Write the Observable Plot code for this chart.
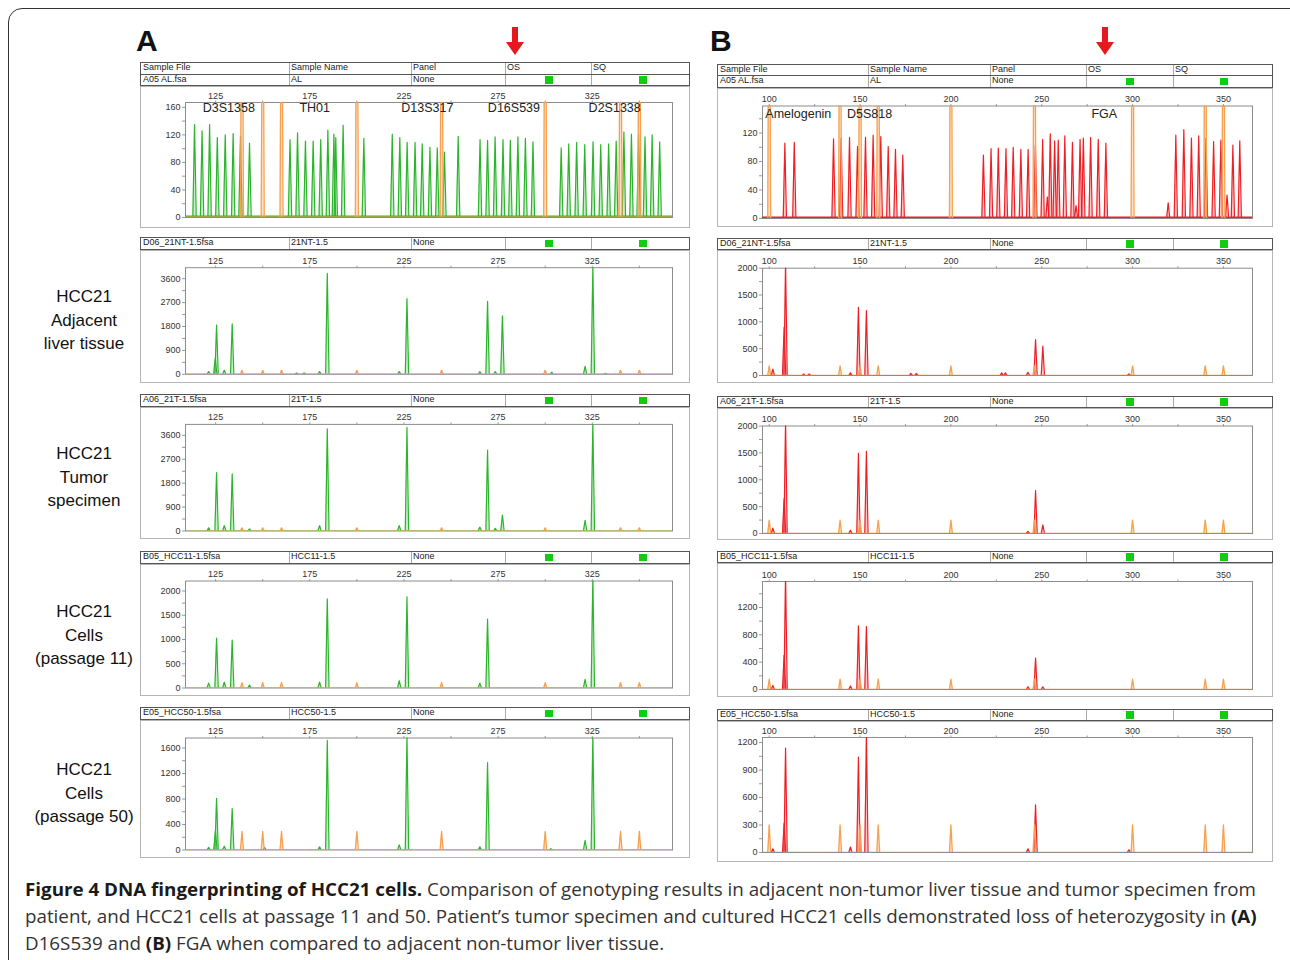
<!DOCTYPE html>
<html><head><meta charset="utf-8">
<script src="https://cdn.jsdelivr.net/npm/d3@7"></script>
<script src="https://cdn.jsdelivr.net/npm/@observablehq/plot@0.6"></script>
<style>
body{margin:0;background:#fff;font-family:"Liberation Sans",Arial,sans-serif;}
#page{position:relative;width:1290px;height:960px;overflow:hidden;background:#fff;}
.hrow{position:absolute;border:1.3px solid #555;box-sizing:border-box;background:#fff;font-size:9px;color:#222;}
.cell{position:absolute;top:0;line-height:9.5px;white-space:nowrap;}
.sep{position:absolute;top:0;bottom:0;width:0;border-left:1px solid #aaa;}
.gsq{position:absolute;top:1.5px;width:8px;height:7.5px;background:#11cc11;}
.box{position:absolute;border:1px solid #b5b5b5;box-sizing:border-box;}
.rowlab{position:absolute;width:160px;text-align:center;font-size:17px;color:#111;line-height:23.5px;}
.plot{position:absolute;display:block;}
</style></head><body><div id="page"></div>
<script>
// ---------- DATA ----------
const xTicksA = [125, 175, 225, 275, 325];
const xMinorA = [150, 200, 250, 300, 350];
const xTicksB = [100, 150, 200, 250, 300, 350];
const xMinorB = [125, 175, 225, 275, 325];

const ladderA = [139, 150, 160, 200, 245, 300, 340, 350];
const ladderB = [100, 139, 150, 160, 200, 246, 300, 340, 350];
const ladderHeightsA = [500, 150, 120, 110, 290];
const ladderHeightsB = [500, 180, 250, 150, 300];

const yMaxA = [167, 4014, 4014, 2206, 1757];
const yMaxB = [158, 2000, 2000, 1580, 1255];
const yTicksA = [[0,40,80,120,160],[0,900,1800,2700,3600],[0,900,1800,2700,3600],[0,500,1000,1500,2000],[0,400,800,1200,1600]];
const yMinorA = [[20,60,100,140],[450,1350,2250,3150],[450,1350,2250,3150],[250,750,1250,1750],[200,600,1000,1400]];
const yTicksB = [[0,40,80,120],[0,500,1000,1500,2000],[0,500,1000,1500,2000],[0,400,800,1200],[0,300,600,900,1200]];
const yMinorB = [[20,60,100,140],[250,750,1250,1750],[250,750,1250,1750],[200,600,1000,1400],[150,450,750,1050]];

const lociA = ["D3S1358", "TH01", "D13S317", "D16S539", "D2S1338"];
const lociAbp = [132, 177.6, 237.4, 283.4, 336.9];
const lociB = ["Amelogenin", "D5S818", "FGA"];
const lociBbp = [116, 155.2, 284.4];

// [size (bp), height (RFU)]
const peaksA1 = [
 [113.8,135],[117.8,126],[121.8,135],[125.9,116],[130.1,120],[134.3,122],[138.2,118],[143,108],
 [164.5,113],[168.5,123],[172.7,111],[176.8,111],[180.8,113],[184.6,127],[187.8,121],[188.8,116],[192.7,134],[203.7,115],
 [218.8,121],[222.8,116],[226.7,109],[230.9,109],[234.7,107],[238.8,102],[242.7,101],[246.5,95],[253.8,118],
 [265.4,113],[269.4,112],[273.4,117],[277.6,113],[281.5,112],[285.5,117],[289.5,115],[293.5,110],
 [308.5,101],[312.5,107],[316.7,109],[321,106],[325.4,110],[329.5,106],[333.7,107],[337.7,111],[341.8,124],[345.8,121],[349.6,121],[353,117],[356.8,120],[360.8,110]
];
const peaksA2 = [[121.3,100],[124.8,600],[125.5,1850],[129.6,150],[133.8,1900],[168,50],[172,50],[180.2,100],[184.3,3800],
 [222.5,100],[226.6,2850],[265.3,100],[269.4,2750],[273.5,100],[277.3,2200],[303.5,80],[321.2,300],[325.3,4100],[332,40]];
const peaksA3 = [[121.3,120],[125.5,2200],[129.6,200],[133.8,2150],[143,80],[180.2,200],[184.3,3850],[222.5,200],[226.6,3900],
 [265.3,150],[269.4,3050],[273.5,100],[277.3,600],[321.2,400],[325.3,4100]];
const peaksA4 = [[121.3,100],[125.5,1030],[129.6,120],[133.8,990],[143,60],[180.2,120],[184.3,1840],[222.5,150],[226.6,1880],
 [265.3,100],[269.4,1420],[321.2,180],[325.3,2300]];
const peaksA5 = [[121.3,40],[124.9,300],[125.5,810],[129.6,60],[133.8,650],[151,40],[180.2,50],[184.3,1720],[222.5,80],[226.6,1800],
 [265.3,50],[269.4,1370],[303,20],[321.2,150],[325.3,1800]];

const peaksB1 = [
 [108.6,106],[113.8,107],
 [135.4,112],[139.6,113],[144.2,114],[148.6,101],[153,114],[157.2,117],[161.4,115],[165.5,101],[169.5,97],[173.5,89],
 [217.9,89],[222.1,98],[226.1,99],[230.3,98],[234.3,100],[238.5,97],[242.5,97],[246.5,103],[250.5,111],[253.1,30],[254.7,119],[257.1,109],[259.1,110],[262.7,116],[266.9,107],[268.9,18],[271.1,111],[272.9,113],[276.9,114],[281.1,111],[285.3,106],
 [319.6,22],[323.8,117],[328.2,125],[332.4,113],[336.4,116],[340.4,113],[344.6,108],[348.6,110],[352,33],[355.2,103],[359,109]
];
const peaksB2 = [[102,120],[108.2,900],[109,2100],[119,30],[122,30],[144.7,50],[149.1,1270],[153.5,1210],[178,40],[181,40],
 [228,50],[230,50],[242.4,60],[246.6,670],[250.6,550],[298,30]];
const peaksB3 = [[102,100],[108.2,650],[109,2100],[144.7,60],[149.1,1490],[153.5,1530],[242.4,40],[246.6,800],[250.6,160]];
const peaksB4 = [[102,60],[108.2,500],[109,1700],[144.7,50],[149.1,930],[153.5,920],[242.4,40],[246.6,460],[250.6,40]];
const peaksB5 = [[102,40],[108.2,320],[109,1140],[144.7,60],[149.1,1040],[153.5,1300],[242.4,40],[246.6,520],[298,30]];

const headerLabels = ["Sample File", "Sample Name", "Panel", "OS", "SQ"];
const sampleFiles = ["A05 AL.fsa", "D06_21NT-1.5fsa", "A06_21T-1.5fsa", "B05_HCC11-1.5fsa", "E05_HCC50-1.5fsa"];
const sampleNames = ["AL", "21NT-1.5", "21T-1.5", "HCC11-1.5", "HCC50-1.5"];
const rowLabels = [["HCC21","Adjacent","liver tissue"],["HCC21","Tumor","specimen"],["HCC21","Cells","(passage 11)"],["HCC21","Cells","(passage 50)"]];

// ---------- LAYOUT ----------
const page = document.getElementById("page");
function add(tag, cls, style, html) {
  const e = document.createElement(tag);
  if (cls) e.className = cls;
  Object.assign(e.style, style || {});
  if (html != null) e.innerHTML = html;
  page.appendChild(e);
  return e;
}
add("div", null, {position:"absolute", left:"8px", top:"8px", width:"1320px", height:"1020px", border:"1.5px solid #333", borderRadius:"14px"});

add("div", null, {position:"absolute", left:"136px", top:"24px", fontSize:"30px", fontWeight:"bold", color:"#111"}, "A");
add("div", null, {position:"absolute", left:"710px", top:"24px", fontSize:"30px", fontWeight:"bold", color:"#111"}, "B");
const arrowSvg = '<svg width="20" height="30"><rect x="7" y="0" width="6" height="16" fill="#e8191e"/><polygon points="1,15 19,15 10,28" fill="#e8191e"/></svg>';
add("div", null, {position:"absolute", left:"505px", top:"27px"}, arrowSvg);
add("div", null, {position:"absolute", left:"1095px", top:"27px"}, arrowSvg);

const ORANGE = "#f7a04e";
const colA = {boxLeft:140, boxRight:690, frameLeft:185, frameRight:672, cols:[0,148,270,364,450], greens:[404,498],
  xDomain:[109,367.6], xMajor:xTicksA, xMinor:xMinorA, color:"#2cb52c", w:0.9,
  ladder:ladderA, ladderH:ladderHeightsA, yMax:yMaxA, yTicks:yTicksA, yMinor:yMinorA,
  peaks:[peaksA1,peaksA2,peaksA3,peaksA4,peaksA5], loci:lociA, lociBp:lociAbp, lociDy:5, topOrangeW:2,
  geom:[{hTop:62,hRows:2,boxBottom:228,frameTop:102,frameBottom:217},
        {hTop:237,hRows:1,boxBottom:383,frameTop:266.7,frameBottom:373.3},
        {hTop:394,hRows:1,boxBottom:539,frameTop:423.4,frameBottom:530},
        {hTop:551,hRows:1,boxBottom:696,frameTop:580,frameBottom:687},
        {hTop:707,hRows:1,boxBottom:858,frameTop:737,frameBottom:849}]};
const colB = {boxLeft:717, boxRight:1273, frameLeft:762, frameRight:1252, cols:[0,150,272,368,455], greens:[408,502],
  xDomain:[96.3,366], xMajor:xTicksB, xMinor:xMinorB, color:"#ee2026", w:0.9,
  ladder:ladderB, ladderH:ladderHeightsB, yMax:yMaxB, yTicks:yTicksB, yMinor:yMinorB,
  peaks:[peaksB1,peaksB2,peaksB3,peaksB4,peaksB5], loci:lociB, lociBp:lociBbp, lociDy:8, topOrangeW:1,
  geom:[{hTop:63.5,hRows:2,boxBottom:227,frameTop:105,frameBottom:217.5},
        {hTop:237.5,hRows:1,boxBottom:383,frameTop:267.7,frameBottom:375},
        {hTop:395.5,hRows:1,boxBottom:540,frameTop:425.5,frameBottom:533},
        {hTop:550.5,hRows:1,boxBottom:697,frameTop:581,frameBottom:689},
        {hTop:708.5,hRows:1,boxBottom:862,frameTop:737,frameBottom:852}]};

const RH = 11.5;
function headerRow(col, top, texts, greens) {
  const W = col.boxRight - col.boxLeft;
  const r = add("div", "hrow", {left:col.boxLeft+"px", top:top+"px", width:W+"px", height:(RH+1)+"px"});
  col.cols.forEach((cx, i) => {
    if (i > 0) { const s = document.createElement("div"); s.className = "sep"; s.style.left = cx + "px"; r.appendChild(s); }
    if (texts[i]) { const c = document.createElement("div"); c.className = "cell"; c.style.left = (cx + 2) + "px"; c.textContent = texts[i]; r.appendChild(c); }
  });
  if (greens) col.greens.forEach(gx => { const g = document.createElement("div"); g.className = "gsq"; g.style.left = gx + "px"; r.appendChild(g); });
}

function tri(pk, w) {
  return pk.flatMap(([x, h], i) => [{x: x - w, y: 0, i}, {x, y: h, i}, {x: x + w, y: 0, i}]);
}

function drawColumn(col) {
  col.geom.forEach((g, k) => {
    if (g.hRows === 2) {
      headerRow(col, g.hTop, headerLabels, false);
      headerRow(col, g.hTop + RH, [sampleFiles[k], sampleNames[k], "None", "", ""], true);
    } else {
      headerRow(col, g.hTop, [sampleFiles[k], sampleNames[k], "None", "", ""], true);
    }
    const hb = g.hTop + g.hRows * RH + 1;
    const W = col.boxRight - col.boxLeft, H = g.boxBottom - hb;
    add("div", "box", {left:col.boxLeft+"px", top:hb+"px", width:W+"px", height:H+"px"});
    const top = k === 0;
    const peakTri = tri(col.peaks[k], col.w);
    const ladTri = tri(col.ladder.map(x => [x, col.ladderH[k]]), 0.8);
    const marks = [
      Plot.frame({stroke:"#8c8c8c", strokeWidth:1}),
      Plot.axisX([...col.xMajor, ...col.xMinor], {anchor:"top", tickSize:2.5, tickPadding:1.5, label:null,
        stroke:"#999", tickFormat: d => col.xMajor.includes(d) ? String(d) : ""}),
      Plot.axisY([...col.yTicks[k], ...col.yMinor[k]], {anchor:"left", tickSize:3, tickPadding:2, label:null,
        stroke:"#999", tickFormat: d => col.yTicks[k].includes(d) ? String(d) : ""}),
      Plot.ruleY([0], {stroke: col.color, strokeWidth: top ? 4 : 1.2, clip: true}),
      Plot.areaY(peakTri, {x:"x", y:"y", z:"i", fill:col.color, fillOpacity:0.25, clip:true}),
      Plot.line(peakTri, {x:"x", y:"y", z:"i", stroke:col.color, strokeWidth:1.2, clip:true}),
      Plot.ruleY([0], {stroke: ORANGE, strokeWidth: top ? col.topOrangeW : 1.5, clip: true}),
      Plot.areaY(ladTri, {x:"x", y:"y", z:"i", fill:ORANGE, fillOpacity:0.3, clip:true}),
      Plot.line(ladTri, {x:"x", y:"y", z:"i", stroke:ORANGE, strokeWidth:1.3, clip:true})
    ];
    if (top) {
      marks.push(Plot.text(col.loci, {x: (d, i) => col.lociBp[i], text: d => d, frameAnchor:"top", lineAnchor:"middle",
        dy: col.lociDy, fontSize: 12.5, fill:"#222"}));
    }
    const svg = Plot.plot({
      width: W, height: H,
      marginTop: g.frameTop - hb, marginBottom: g.boxBottom - g.frameBottom,
      marginLeft: col.frameLeft - col.boxLeft, marginRight: col.boxRight - col.frameRight,
      x: {domain: col.xDomain}, y: {domain: [0, col.yMax[k]]},
      style: {fontFamily:'"Liberation Sans", Arial, sans-serif', fontSize:"9px", color:"#333", background:"none", overflow:"visible"},
      marks
    });
    svg.classList.add("plot");
    svg.style.left = col.boxLeft + "px";
    svg.style.top = hb + "px";
    page.appendChild(svg);
  });
}
drawColumn(colA);
drawColumn(colB);

const rowCenters = [320, 477, 635, 793];
rowLabels.forEach((lines, i) => {
  add("div", "rowlab", {left:(84-80)+"px", top:(rowCenters[i]-35)+"px"}, lines.join("<br>"));
});

const cap = add("div", null, {position:"absolute", left:"25px", top:"875px", fontFamily:'"Open Sans", sans-serif', fontSize:"18.5px",
  lineHeight:"27px", color:"#333", whiteSpace:"nowrap", transformOrigin:"0 0"},
  '<span id="l1"><b style="color:#1a1a1a">Figure 4 DNA fingerprinting of HCC21 cells.</b> Comparison of genotyping results in adjacent non-tumor liver tissue and tumor specimen from</span><br>' +
  'patient, and HCC21 cells at passage 11 and 50. Patient’s tumor specimen and cultured HCC21 cells demonstrated loss of heterozygosity in <b style="color:#1a1a1a">(A)</b><br>' +
  'D16S539 and <b style="color:#1a1a1a">(B)</b> FGA when compared to adjacent non-tumor liver tissue.');
const w1 = document.getElementById("l1").getBoundingClientRect().width;
cap.style.transform = "scaleX(" + (1231 / w1) + ")";
</script></body></html>
